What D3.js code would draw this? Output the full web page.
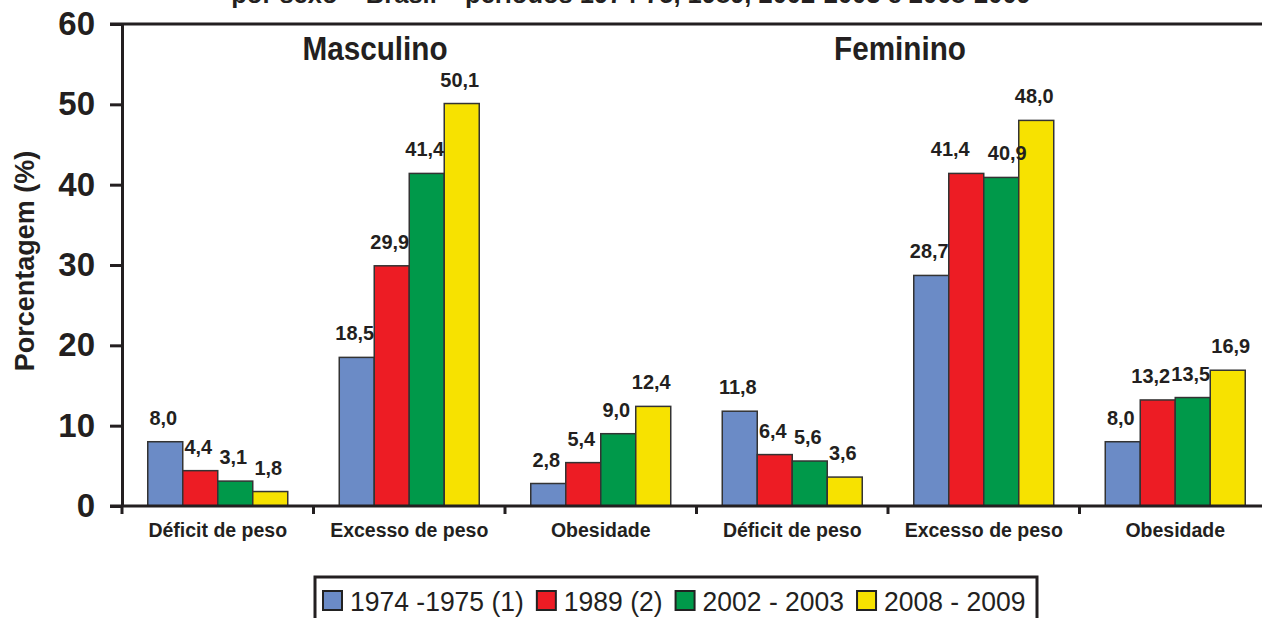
<!DOCTYPE html>
<html lang="pt">
  <head>
    <meta charset="UTF-8" />
    <title>Déficit de peso, excesso de peso e obesidade por sexo - Brasil</title>
    <script src="https://d3js.org/d3.v7.min.js"></script>
    <style>
      body {
        margin: 0;
        background: #fff;
        font-family: "Liberation Sans", Arial, sans-serif;
      }
      svg text {
        fill: #231f20;
      }
    </style>
  </head>
  <body>
    <script>
      // data
      var categories = [
        "Déficit de peso",
        "Excesso de peso",
        "Obesidade",
        "Déficit de peso",
        "Excesso de peso",
        "Obesidade",
      ];
      var sexes = ["Masculino", "Feminino"];
      var periods = ["1974 -1975 (1)", "1989 (2)", "2002 - 2003", "2008 - 2009"];
      var values1974 = [8.0, 18.5, 2.8, 11.8, 28.7, 8.0];
      var values1989 = [4.4, 29.9, 5.4, 6.4, 41.4, 13.2];
      var values2002 = [3.1, 41.4, 9.0, 5.6, 40.9, 13.5];
      var values2008 = [1.8, 50.1, 12.4, 3.6, 48.0, 16.9];
      var yTicks = [0, 10, 20, 30, 40, 50, 60];
      var colors = ["#6b8bc6", "#ed1c24", "#00994a", "#f7e200"];

      var seriesValues = [values1974, values1989, values2002, values2008];

      var width = 1262,
        height = 618;

      var svg = d3
        .select("body")
        .append("svg")
        .attr("width", width)
        .attr("height", height);

      // scales
      var x0 = d3.scaleBand().domain(d3.range(categories.length)).range([122, 1271]);
      var x1 = d3
        .scaleBand()
        .domain(periods)
        .range([0, x0.bandwidth()])
        .paddingInner(0)
        .paddingOuter(0.736);
      var y = d3.scaleLinear().domain([0, 60]).range([506, 24]);

      // cut-off title at the very top
      svg
        .append("text")
        .attr("x", 631)
        .attr("y", 3)
        .attr("text-anchor", "middle")
        .style("font-size", "25.5px")
        .style("font-weight", "bold")
        .text("por sexo – Brasil – períodos 1974-75, 1989, 2002-2003 e 2008-2009");

      // bars
      var groups = svg
        .selectAll(".grp")
        .data(categories)
        .enter()
        .append("g")
        .attr("class", "grp")
        .attr("transform", function (d, i) {
          return "translate(" + x0(i) + ",0)";
        });

      function barData(d, i) {
        return periods.map(function (p, k) {
          return { period: p, k: k, cat: i, value: seriesValues[k][i] };
        });
      }

      groups
        .selectAll("rect")
        .data(barData)
        .enter()
        .append("rect")
        .attr("x", function (d) {
          return x1(d.period);
        })
        .attr("y", function (d) {
          return y(d.value);
        })
        .attr("width", x1.bandwidth())
        .attr("height", function (d) {
          return y(0) - y(d.value);
        })
        .attr("fill", function (d) {
          return colors[d.k];
        })
        .attr("stroke", "#333")
        .attr("stroke-width", 1.5);

      // value labels (a few are pushed sideways in the original so they don't collide)
      function labelShift(d) {
        if (d.cat === 4 && d.k === 1) return -16;
        if (d.cat === 4 && d.k === 2) return 6;
        if (d.cat === 5 && d.k === 1) return -7;
        if (d.cat === 5 && d.k === 3) return 3;
        return -2;
      }

      groups
        .selectAll(".val")
        .data(barData)
        .enter()
        .append("text")
        .attr("class", "val")
        .attr("transform", function (d) {
          var cx = x1(d.period) + x1.bandwidth() / 2 + labelShift(d);
          return "translate(" + cx + "," + (y(d.value) - 17) + ") scale(0.95,1)";
        })
        .attr("text-anchor", "middle")
        .style("font-size", "21px")
        .style("font-weight", "bold")
        .text(function (d) {
          return d.value.toFixed(1).replace(".", ",");
        });

      // frame lines: top, y axis, x axis with ticks
      var axisColor = "#231f20";
      svg
        .append("line")
        .attr("x1", 110)
        .attr("x2", 1271)
        .attr("y1", y(60))
        .attr("y2", y(60))
        .attr("stroke", axisColor)
        .attr("stroke-width", 3);

      var yAxis = svg
        .append("g")
        .attr("transform", "translate(122,0)")
        .call(
          d3.axisLeft(y).tickValues(yTicks).tickSize(12).tickSizeOuter(0).tickPadding(15)
        );
      yAxis.selectAll("path, line").attr("stroke", axisColor).attr("stroke-width", 3);
      yAxis
        .selectAll("text")
        .attr("fill", axisColor)
        .style("font-size", "33px")
        .style("font-weight", "bold")
        .style("font-family", "'Liberation Sans', Arial, sans-serif");

      var boundaries = d3.range(categories.length).map(function (i) {
        return x0(i);
      });
      boundaries.push(x0.range()[1]);

      svg
        .append("line")
        .attr("x1", 110)
        .attr("x2", 1271)
        .attr("y1", y(0))
        .attr("y2", y(0))
        .attr("stroke", axisColor)
        .attr("stroke-width", 3);

      svg
        .selectAll(".xtick")
        .data(boundaries)
        .enter()
        .append("line")
        .attr("x1", function (d) {
          return d;
        })
        .attr("x2", function (d) {
          return d;
        })
        .attr("y1", y(0))
        .attr("y2", y(0) + 8)
        .attr("stroke", axisColor)
        .attr("stroke-width", 3);

      // category labels
      svg
        .selectAll(".cat")
        .data(categories)
        .enter()
        .append("text")
        .attr("x", function (d, i) {
          return x0(i) + x0.bandwidth() / 2;
        })
        .attr("y", 537)
        .attr("text-anchor", "middle")
        .style("font-size", "19.5px")
        .style("font-weight", "bold")
        .text(function (d) {
          return d;
        });

      // sex headings
      var headingX = [375, 900];
      svg
        .selectAll(".sex")
        .data(sexes)
        .enter()
        .append("text")
        .attr("transform", function (d, i) {
          return "translate(" + headingX[i] + ",60) scale(0.9,1)";
        })
        .attr("text-anchor", "middle")
        .style("font-size", "33px")
        .style("font-weight", "bold")
        .text(function (d) {
          return d;
        });

      // y axis title
      svg
        .append("text")
        .attr("transform", "translate(34,261) rotate(-90)")
        .attr("text-anchor", "middle")
        .style("font-size", "27px")
        .style("font-weight", "bold")
        .text("Porcentagem (%)");

      // legend
      var legend = svg.append("g");
      legend
        .append("rect")
        .attr("x", 315)
        .attr("y", 577)
        .attr("width", 722)
        .attr("height", 60)
        .attr("fill", "none")
        .attr("stroke", axisColor)
        .attr("stroke-width", 3);

      var lx = 323;
      periods.forEach(function (p, k) {
        legend
          .append("rect")
          .attr("x", lx)
          .attr("y", 591)
          .attr("width", 19)
          .attr("height", 19)
          .attr("fill", colors[k])
          .attr("stroke", "#222")
          .attr("stroke-width", 2);
        var t = legend
          .append("text")
          .attr("transform", "translate(" + (lx + 27) + ",611) scale(0.93,1)")
          .style("font-size", "28.5px")
          .text(p);
        lx += 27 + t.node().getComputedTextLength() * 0.93 + 13;
      });
    </script>
  </body>
</html>
